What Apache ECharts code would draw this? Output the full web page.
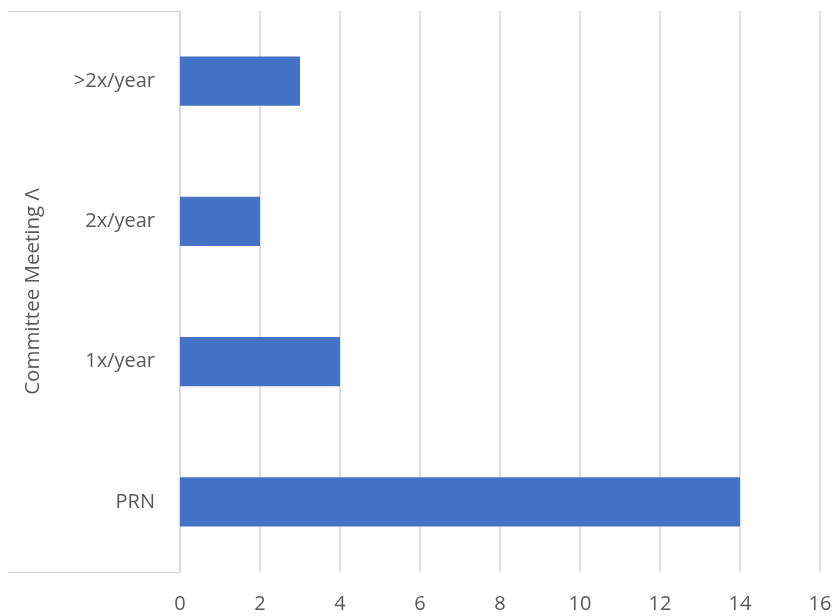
<!DOCTYPE html>
<html>
<head>
<meta charset="utf-8">
<script src="https://cdn.jsdelivr.net/npm/echarts@6/dist/echarts.min.js"></script>
<style>
  html, body { margin: 0; padding: 0; background: #fff; }
  #chart { width: 838px; height: 616px; }
</style>
</head>
<body>
<div id="chart"></div>
<script>
  // categories bottom to top
  const categories = ['PRN', '1x/year', '2x/year', '>2x/year'];
  const counts = [14, 4, 2, 3];
  const xTicks = [0, 2, 4, 6, 8, 10, 12, 14, 16];

  const textColor = '#595959';
  const fontFamily = '"Open Sans", "Liberation Sans", sans-serif';

  const chart = echarts.init(document.getElementById('chart'));

  const option = {
    animation: false,
    grid: { left: 180, right: 18, top: 11, bottom: 44 },
    xAxis: {
      type: 'value',
      min: xTicks[0],
      max: xTicks[xTicks.length - 1],
      interval: 2,
      axisLine: { show: false },
      axisTick: { show: false },
      splitLine: { lineStyle: { color: '#d6d6d6', width: 1.5 } },
      axisLabel: { color: textColor, fontSize: 20, fontFamily: fontFamily, margin: 22 },
    },
    yAxis: [
      {
        type: 'category',
        data: categories,
        name: 'Committee Meeting \u039B',
        nameLocation: 'middle',
        nameGap: 136,
        nameTextStyle: { color: textColor, fontSize: 20.5, fontFamily: fontFamily },
        axisLine: { show: true, lineStyle: { color: '#d6d6d6', width: 1.5 } },
        axisTick: { show: false },
        axisLabel: { color: textColor, fontSize: 20, fontFamily: fontFamily, margin: 25 },
      },
      {
        // outer border lines of the label area
        type: 'category',
        data: [''],
        position: 'left',
        axisLine: { show: false },
        axisTick: { show: true, length: 172, lineStyle: { color: '#d6d6d6' } },
        axisLabel: { show: false },
      },
    ],
    series: [
      {
        type: 'bar',
        data: counts,
        barWidth: '35%',
        itemStyle: { color: '#4472C4' },
      },
    ],
  };

  chart.setOption(option);
</script>
</body>
</html>
